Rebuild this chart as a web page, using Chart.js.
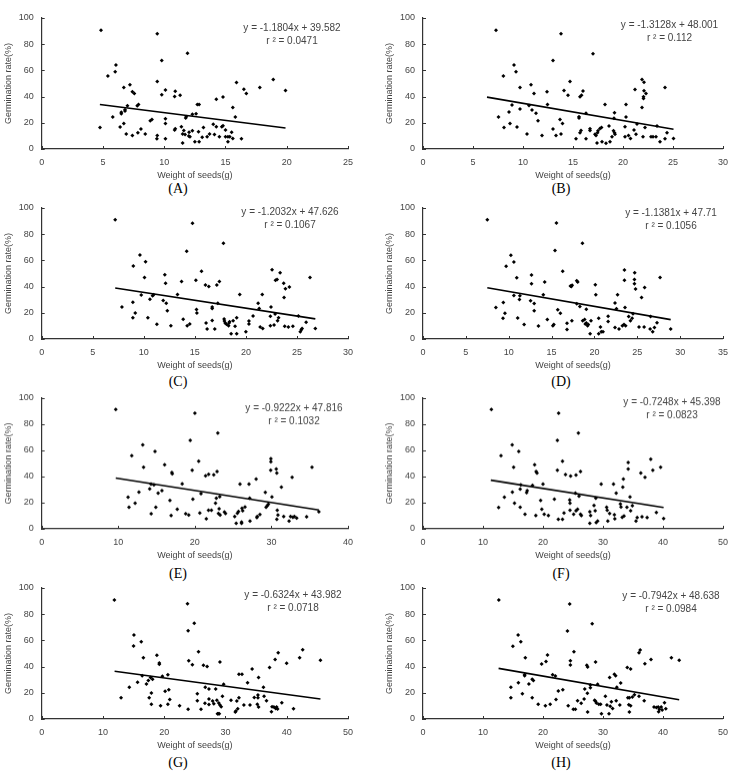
<!DOCTYPE html>
<html>
<head>
<meta charset="utf-8">
<script src="https://cdn.jsdelivr.net/npm/chart.js@4.4.0/dist/chart.umd.min.js"></script>
<style>
body { margin: 0; background: #fff; }
#wrap { position: relative; width: 736px; height: 771px; overflow: hidden; }
#wrap canvas { position: absolute; }
.lbl { position: absolute; font: 14px 'Liberation Serif', 'Times New Roman', serif; color: #000; transform: translate(-50%, -50%); }
</style>
</head>
<body>
<div id="wrap"></div>
<script>
// weight of seeds (g), germination rate (%)
const seedsA = [[4.84,90.6],[4.76,16.5],[5.4,55.8],[5.8,24.4],[6.06,64.2],[6.0,59],[6.4,16.8],[6.5,27],[6.5,28],[6.7,47],
  [6.7,19.5],[6.8,30],[6.8,29],[6.9,11.4],[7.0,33],[7.2,49],[7.4,10.4],[7.4,43.7],[7.56,42.4],[7.8,33],
  [7.9,34],[7.85,12.4],[8.1,15.2],[8.45,11.4],[8.86,21.6],[9.0,22.6],[9.43,88],[9.43,51.5],[9.43,10.4],[9.4,7.9],
  [9.8,67.5],[9.8,41.4],[10.1,45],[10.1,23],[10.1,19.5],[10.1,7.9],[10.85,40],[10.9,44],[10.85,14.5],[10.9,15.5],
  [11.3,41],[11.4,17],[11.5,11.4],[11.5,4.6],[11.6,14.2],[11.7,11],[11.8,24.6],[11.75,23.6],[11.9,73],[12.0,10],
  [12.03,12.7],[12.1,9.4],[12.3,26.6],[12.3,14],[12.5,5.6],[12.6,27],[12.7,34],[12.85,34],[12.8,13.2],[12.85,5.6],
  [13.1,8.9],[13.2,16.5],[13.5,9.4],[13.7,11.4],[14.0,18.8],[14.1,11],[14.25,38],[14.25,17],[14.5,9.4],[14.7,17],
  [14.8,17.8],[14.8,39.6],[15.0,14.5],[15.0,9.4],[15.2,9.4],[15.2,5.6],[15.35,9.4],[15.5,12.7],[15.6,31.7],[15.8,24.4],
  [15.9,50.8],[15.6,8.1],[16.3,7.9],[16.5,45.7],[16.7,42.4],[17.8,47],[18.9,53],[19.9,44.7]];

const seedsB = [[7.3,90.6],[7.55,24.4],[8.04,55.8],[8.1,16.5],[8.6,28.2],[8.7,19.5],[8.9,33.5],[9.1,64.2],[9.3,59],[9.4,16.8],
  [9.7,47],[9.7,30.5],[10.4,11.4],[10.8,49],[10.9,29.7],[11.1,42.4],[11.3,27.2],[10.6,33.2],[11.5,21.6],[11.9,10.4],
  [12.4,43.7],[12.45,34],[13.0,15.2],[13.0,67.5],[13.3,10.4],[13.7,22.6],[13.8,88],[13.8,11.4],[13.95,19.5],[14.1,44.7],
  [14.5,41.1],[14.7,51.5],[15.3,7.9],[15.6,23.6],[15.6,24.6],[15.7,39.8],[15.7,12.4],[15.8,14.2],[15.85,41.1],[16.0,44.2],
  [16.3,27.2],[16.3,7.9],[16.7,14.2],[16.7,15.5],[17.0,72.8],[17.2,11.2],[17.3,10.4],[17.4,4.6],[17.45,12.4],[17.5,14],
  [17.7,15.7],[17.85,16.5],[17.9,5.6],[18.2,34],[18.3,4.3],[18.6,17.5],[18.7,5.6],[18.9,9.4],[19.05,14],[19.1,23.4],
  [19.15,27.7],[19.15,12.4],[19.2,11.2],[20.2,9.4],[20.2,17],[20.3,24.4],[20.3,34],[20.55,10.4],[20.75,8.1],[21.1,14.5],
  [21.2,45.4],[21.3,11.2],[21.4,19],[21.9,31.7],[21.9,53],[22.0,9.4],[22.1,51],[22.05,39.8],[22.05,38.6],[22.1,44.4],
  [22.2,16.5],[22.3,42.4],[22.8,9.4],[23.0,9.4],[23.3,9.4],[23.4,17.5],[23.7,5.6],[24.2,47],[24.2,7.9],[24.4,12.4],
  [25.05,8.1]];

const seedsC = [[7.2,91],[7.86,24.4],[8.97,55.7],[8.93,16.3],[8.93,28],[9.16,19.8],[9.62,64.1],[9.75,33.6],[10.17,59],[10.07,47],
  [10.4,16.3],[10.6,30.3],[10.86,33],[10.96,33.8],[11.28,11.2],[11.9,29.3],[12.06,49],[12.13,42.5],[12.2,27.2],[12.3,21.6],
  [12.65,10.2],[13.3,34],[13.7,43.8],[13.86,15],[14.2,67],[14.25,10.2],[14.5,11.5],[14.77,88.3],[15.1,44.8],[15.16,22.6],
  [15.2,19.8],[15.65,51.7],[16.04,41.2],[16.1,12.2],[16.2,7.6],[16.37,40],[16.7,14.2],[16.7,24.4],[16.7,23.2],[16.95,7.6],
  [17.15,41.2],[17.25,27.2],[17.4,43.8],[17.8,73],[17.87,15.3],[17.9,13.7],[17.97,12.2],[18.1,11.2],[18.3,10.2],[18.35,12.2],
  [18.4,13.2],[18.55,4],[18.75,14],[18.94,9.7],[19.1,4],[19.1,16.3],[19.4,34],[20.0,5.6],[20.3,13.7],[20.3,11.5],
  [20.7,17.6],[21.2,27.2],[21.3,23.2],[21.4,9.2],[21.6,34],[21.65,8.1],[22.4,10.2],[22.4,17.3],[22.46,24.4],[22.56,52.9],
  [22.76,10.7],[22.86,19],[22.9,44.8],[23.05,45.5],[23.1,14],[23.2,16.3],[23.35,50.6],[23.7,42.5],[23.74,31.6],[23.8,9.7],
  [23.87,38.4],[24.16,9.2],[24.26,39.7],[24.6,9.7],[25.14,17.6],[25.33,5.6],[25.43,7.1],[25.5,8.1],[25.9,12.7],[26.28,47],
  [26.8,8.1]];

const seedsD = [[7.5,91],[8.5,24],[9.7,55.5],[9.33,15.9],[9.37,27.9],[9.56,19.7],[10.25,64],[10.6,33.2],[10.6,58.8],[10.94,46.8],
  [11.05,16.1],[11.25,30.2],[11.3,33],[11.8,11],[12.55,29.2],[12.66,48.8],[12.66,42.2],[12.97,27.1],[12.97,21.5],[13.47,10],
  [14.04,33.8],[14.2,43.5],[14.5,14.8],[15.4,67.5],[15.15,10.2],[15.26,11],[15.57,88.5],[15.72,22.3],[16.03,19.7],[16.3,51.7],
  [16.8,12],[17.2,40.4],[17.3,40],[17.37,14],[17.4,41],[16.8,7.2],[17.94,44.5],[18.05,43.5],[17.94,26.9],[18.3,24.8],
  [18.6,73.1],[18.63,14],[18.86,14.8],[18.94,11.5],[19.05,12.3],[19.05,22.8],[19.2,10.2],[19.28,11],[19.5,4.1],[19.6,14],
  [20.1,41.4],[20.16,33.8],[20.5,15.9],[20.5,4.1],[20.7,9.2],[20.8,5.6],[21.0,5.6],[21.6,17.4],[21.6,13.3],[22.4,27.4],
  [22.4,8.7],[22.57,23],[22.7,33.8],[22.87,7.7],[23.26,10.2],[23.45,11],[23.5,52.7],[23.5,44.8],[23.57,24],[23.64,10.2],
  [24.0,17.1],[24.2,14],[24.4,15.9],[24.5,19.2],[24.7,50.6],[24.67,45.5],[24.67,42.2],[24.8,38.1],[25.2,9.2],[25.5,31.7],
  [25.8,9.2],[25.86,39.4],[26.5,7.7],[26.55,17.1],[26.8,5.6],[27.0,8.7],[27.3,12.5],[27.66,47],[28.9,7.7]];

const seedsE = [[9.67,91.3],[11.28,24.2],[11.4,16.6],[11.76,55.9],[12.2,19.6],[12.7,28],[13.2,64.3],[13.3,47.2],[14.1,30.6],[14.27,34.2],
  [14.3,11.5],[14.66,33.7],[14.8,59.2],[14.9,16.6],[15.2,27.3],[15.7,29.3],[16.05,49],[16.75,21.7],[16.9,10.2],[17.0,43.1],
  [17.05,42.1],[17.7,15],[18.35,34.4],[18.8,11.5],[19.2,10.5],[19.4,67.6],[19.65,44.9],[19.74,22.7],[20.0,88.5],[20.5,51.8],
  [20.65,12.2],[20.8,27],[21.4,40.6],[21.5,7.7],[21.8,41.8],[21.78,14.3],[22.17,14.3],[22.47,41.3],[22.7,19.6],[22.8,23.5],
  [22.9,43.9],[23.0,73.2],[23.08,11.7],[23.17,15.3],[23.25,24.7],[23.3,10.5],[23.86,12.8],[24.0,11.7],[25.2,9.4],[25.4,4.3],
  [25.55,12],[25.7,13.3],[25.9,34.2],[26.1,5.1],[26.1,4.3],[26.16,15.8],[26.25,13.8],[26.55,16.8],[27.07,34.2],[27.2,5.9],
  [27.16,23.5],[28.0,38],[28.1,8.7],[28.15,9.4],[28.5,11],[29.2,27.8],[29.3,16.6],[29.46,17.6],[29.6,18.9],[29.9,44.9],
  [29.93,53.6],[29.93,51.3],[30.07,24.5],[30.63,45.7],[30.7,42.6],[30.7,7.4],[30.76,14.3],[30.85,10.5],[31.3,31.9],[31.6,9.4],
  [32.3,5.9],[32.5,9.4],[32.7,39.5],[32.8,8.9],[33.0,9.4],[33.3,8.2],[34.6,9.2],[35.3,47.2],[36.2,13]];

const seedsF = [[11.4,91.3],[12.6,16.3],[13.0,55.9],[13.56,24.2],[14.87,64.3],[14.9,28],[15.1,47.2],[15.25,19.6],[15.96,59.2],[16.2,30.4],
  [16.2,16.6],[16.3,33.7],[17.0,11.2],[17.27,27.6],[17.37,29.3],[18.25,33.2],[18.6,49],[18.85,43.9],[19.0,42.6],[18.8,10.2],
  [19.6,21.7],[19.8,15],[20.0,34.2],[20.2,11.2],[20.9,10.2],[21.9,22.7],[22.4,44.9],[22.4,67.6],[22.6,88.5],[22.55,7.4],
  [23.25,51.8],[23.25,7.4],[23.5,12.2],[23.75,41.6],[24.45,22.2],[24.5,19.6],[24.5,14.3],[24.6,40.3],[25.1,11.2],[25.4,27.3],
  [25.5,13.8],[25.5,41.1],[25.76,15],[25.9,73.2],[26.0,25],[26.25,43.9],[26.25,11.2],[26.4,10.2],[27.8,4.3],[27.8,13],
  [27.94,10.2],[28.5,17.9],[28.7,13.8],[28.8,23.5],[28.87,4.8],[29.1,5.9],[29.7,34.2],[30.6,16.6],[30.7,14.3],[30.8,5.9],
  [31.1,11.7],[31.75,34.2],[31.9,10.7],[31.97,7.7],[32.2,27.3],[32.9,19.1],[33.0,16.8],[33.2,8.9],[33.3,31.9],[33.4,38],
  [33.5,9.9],[33.99,16.6],[34.2,50.8],[34.2,45.7],[34.5,24.5],[34.6,13.8],[34.9,17.6],[35.5,5.9],[35.7,8.7],[36.3,42.6],
  [36.5,9.2],[37.0,39.5],[37.36,8.7],[37.96,53.3],[38.3,44.9],[38.9,12.5],[39.6,47.2],[40.1,7.9]];

const seedsG = [[11.86,90.8],[12.95,16.3],[14.3,24.2],[15.0,55.7],[15.06,64.1],[15.65,28],[16.25,59],[16.4,33],[16.6,46.8],[17.1,26.7],
  [17.4,29.3],[17.55,16.3],[17.77,31.6],[17.9,19.8],[17.9,11.2],[18.1,30.3],[18.8,48.6],[19.2,42.7],[19.2,41.7],[19.4,10.2],
  [19.7,32.6],[20.6,33.8],[20.6,11.2],[20.9,14.8],[20.15,21.1],[20.75,22.4],[22.5,10.2],[23.8,88],[23.9,67.4],[23.9,7.4],
  [24.0,44.5],[24.6,41.5],[24.9,73],[25.4,19.3],[25.4,14],[25.6,51.4],[26.0,7.4],[26.4,41],[26.7,24.2],[26.65,12],
  [27.0,40],[27.3,22.9],[27.3,15.3],[27.3,11],[27.9,13.7],[28.1,11.7],[28.4,22.9],[28.6,14.3],[28.7,4.1],[28.8,4.1],
  [28.9,12.2],[28.98,4.1],[29.1,43.5],[29.1,10.7],[29.3,9.4],[29.5,17.3],[29.7,26.5],[30.9,14.3],[31.6,5.3],[31.7,6.1],
  [31.85,13.7],[32.0,7.9],[32.2,16.3],[32.2,34.1],[32.7,34.1],[33.0,10.7],[33.6,27.7],[34.0,10.7],[34.35,38.2],[34.7,16.5],
  [35.2,11.2],[35.3,18.3],[35.3,16.3],[35.4,31.6],[35.4,9.2],[36.2,24.2],[36.3,17.3],[36.7,14],[37.2,39.4],[37.5,5.6],
  [37.6,9.4],[37.9,9.2],[38.1,45.5],[38.2,8.1],[38.35,9.2],[38.5,7.6],[38.6,50.6],[39.2,12.5],[39.98,42.5],[41.1,7.9],
  [42.1,46.8],[42.6,52.9],[45.5,44.8]];

const seedsH = [[12.64,90.8],[14.65,16.3],[14.65,24.2],[14.98,55.5],[15.85,64.1],[15.9,27.7],[16.3,59],[16.56,19.3],[17.05,46.8],[16.94,33.8],
  [16.94,33],[17.65,26.7],[18.2,30.3],[18.2,16.3],[18.4,29.3],[19.2,11.2],[19.77,42],[20.4,10.2],[20.5,43.8],[20.75,48.9],
  [21.2,11.2],[21.6,33.8],[22.06,32.8],[22.17,14.8],[22.55,21.4],[23.3,22.4],[24.07,67.2],[24.2,10.2],[24.45,87.8],[24.56,44.5],
  [24.56,41.2],[25.16,51.4],[25.05,7.4],[25.4,7.4],[25.76,14],[26.36,12],[26.85,15.3],[26.96,22.9],[27.3,41],[27.44,39.7],
  [27.4,19.6],[27.44,5.3],[27.9,23.9],[27.9,26],[28.2,72.8],[28.6,14.3],[28.76,13.5],[28.76,43.5],[28.9,12.2],[29.1,26.5],
  [29.3,11.2],[29.6,11.2],[29.74,4.1],[30.4,17.3],[30.66,10.7],[31.0,4.1],[31.1,31.6],[31.2,9.7],[31.4,13.2],[31.6,8.1],
  [31.9,34.1],[32.1,33.1],[32.2,14],[32.3,24.2],[32.8,10.7],[32.95,27.5],[34.04,39.4],[34.15,16.3],[34.3,10.9],[34.4,16.3],
  [34.4,5.3],[34.6,10.2],[34.6,38.2],[34.9,16.8],[35.24,18.6],[36.0,17.3],[36.0,50.6],[36.2,52.7],[36.87,14],[36.98,42.2],
  [38.0,45.5],[38.5,9.2],[38.9,8.7],[39.2,9.2],[39.27,5.6],[39.4,7.4],[39.7,9.2],[39.87,6.9],[40.25,12.5],[40.47,7.9],
  [41.4,46.8],[42.7,44.8]];

const panelNames = ['(A)', '(B)', '(C)', '(D)', '(E)', '(F)', '(G)', '(H)'];
const xMaxes = [25, 30, 30, 35, 40, 50, 50, 50];
const xSteps = [5, 5, 5, 5, 10, 10, 10, 10];
const slopes = [-1.1804, -1.3128, -1.2032, -1.1381, -0.9222, -0.7248, -0.6324, -0.7942];
const intercepts = [39.582, 48.001, 47.626, 47.71, 47.816, 45.398, 43.982, 48.638];
const r2s = ['0.0471', '0.112', '0.1067', '0.1056', '0.1032', '0.0823', '0.0718', '0.0984'];
const lineFrom = [4.75, 6.4, 7.2, 7.5, 9.67, 11.3, 11.9, 12.6];
const lineTo = [19.9, 25.05, 26.8, 28.9, 36.2, 40.1, 45.5, 42.7];
const allSeeds = [seedsA, seedsB, seedsC, seedsD, seedsE, seedsF, seedsG, seedsH];

// page layout (pixels)
const rowTop = [17.7, 207.7, 398.3, 588.3];     // y = 100 line
const rowBottom = [149, 338.7, 529, 719.3];     // y = 0 line
const rowLabelY = [189, 382, 574, 763];
const colX = [0, 368];
const colPlotLeft = [41.7, 55];
const colPlotRight = [348, 361];
const colLabelX = [178, 561];
const eqDx = [-56, -53.5, -58, -52, -54, -51, -55, -52];
const eqDy = [10, 7, 4, 5, 10, 4, 7, 8];

const axisFont = { family: "'Liberation Sans', Arial, sans-serif", size: 9 };
const textGrey = '#444';

// tick marks point inward, so they're drawn here instead of by the grid
const innerTicks = {
  id: 'innerTicks',
  afterDraw(chart) {
    const ctx = chart.ctx;
    const a = chart.chartArea;
    const sx = chart.scales.x, sy = chart.scales.y;
    ctx.save();
    ctx.strokeStyle = '#333';
    ctx.lineWidth = 1;
    ctx.beginPath();
    sx.ticks.forEach(t => {
      const px = Math.round(sx.getPixelForValue(t.value)) + 0.5;
      ctx.moveTo(px, a.bottom);
      ctx.lineTo(px, a.bottom - 3);
    });
    sy.ticks.forEach(t => {
      const py = Math.round(sy.getPixelForValue(t.value)) + 0.5;
      ctx.moveTo(a.left, py);
      ctx.lineTo(a.left + 3, py);
    });
    ctx.stroke();
    ctx.restore();
  }
};

const eqText = {
  id: 'eqText',
  afterDraw(chart, args, opts) {
    const ctx = chart.ctx;
    const a = chart.chartArea;
    ctx.save();
    ctx.font = "10px 'Liberation Sans', Arial, sans-serif";
    ctx.fillStyle = textGrey;
    ctx.textAlign = 'center';
    ctx.textBaseline = 'middle';
    ctx.fillText(opts.line1, a.right + opts.dx, a.top + opts.dy);
    ctx.fillText(opts.line2, a.right + opts.dx, a.top + opts.dy + 13);
    ctx.restore();
  }
};

const wrap = document.getElementById('wrap');

allSeeds.forEach((seeds, i) => {
  const row = Math.floor(i / 2), col = i % 2;
  const canvasTop = rowTop[row] - 16;
  const canvasH = rowBottom[row] + 32 - canvasTop;
  const padLeft = col === 0 ? 0 : 13;

  const cv = document.createElement('canvas');
  cv.style.left = colX[col] + 'px';
  cv.style.top = canvasTop + 'px';
  cv.style.width = '368px';
  cv.style.height = canvasH + 'px';
  cv.width = 368;
  cv.height = canvasH;
  wrap.appendChild(cv);

  const lbl = document.createElement('div');
  lbl.className = 'lbl';
  lbl.style.left = colLabelX[col] + 'px';
  lbl.style.top = rowLabelY[row] + 'px';
  lbl.textContent = panelNames[i];
  wrap.appendChild(lbl);

  const trend = [lineFrom[i], lineTo[i]].map(x => ({ x: x, y: slopes[i] * x + intercepts[i] }));

  new Chart(cv, {
    type: 'scatter',
    data: {
      datasets: [{
        data: seeds.map(p => ({ x: p[0], y: p[1] })),
        pointStyle: 'rectRot',
        pointRadius: 2,
        pointBackgroundColor: '#000',
        pointBorderWidth: 0
      }, {
        data: trend,
        showLine: true,
        pointRadius: 0,
        borderColor: '#000',
        borderWidth: 1.6
      }]
    },
    options: {
      responsive: false,
      animation: false,
      events: [],
      layout: { padding: { top: 16, left: padLeft, right: 368 - colPlotRight[col], bottom: 0 } },
      plugins: {
        legend: { display: false },
        tooltip: { enabled: false },
        eqText: {
          line1: 'y = ' + slopes[i] + 'x + ' + intercepts[i],
          line2: 'r ² = ' + r2s[i],
          dx: eqDx[i],
          dy: eqDy[i]
        }
      },
      scales: {
        x: {
          type: 'linear',
          min: 0,
          max: xMaxes[i],
          afterFit(scale) { scale.height = 32; },
          ticks: { stepSize: xSteps[i], color: textGrey, font: axisFont, padding: 8, maxRotation: 0 },
          grid: { drawOnChartArea: false, drawTicks: false },
          border: { display: true, color: '#333', width: 1.2 },
          title: { display: true, text: 'Weight of seeds(g)', color: textGrey, font: axisFont, padding: 0 }
        },
        y: {
          min: 0,
          max: 100,
          afterFit(scale) { scale.width = colPlotLeft[col] - padLeft; },
          ticks: { stepSize: 10, color: textGrey, font: axisFont, padding: 8 },
          grid: { drawOnChartArea: false, drawTicks: false },
          border: { display: true, color: '#333', width: 1.2 },
          title: { display: true, text: 'Germination rate(%)', color: textGrey, font: axisFont, padding: { top: 3, bottom: 0 } }
        }
      }
    },
    plugins: [innerTicks, eqText]
  });
});
</script>
</body>
</html>
